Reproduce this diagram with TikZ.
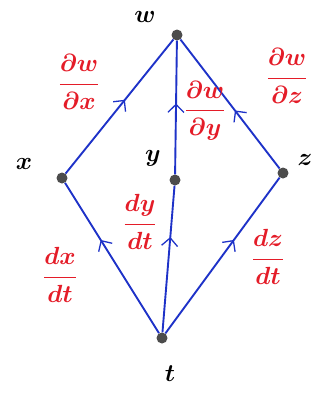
\documentclass[tikz,border=0pt]{standalone}
\usepackage{amsmath}
\usepackage{tikz}
\usetikzlibrary{positioning,arrows.meta,decorations.markings}

\definecolor{edgeblue}{RGB}{30,50,200}
\definecolor{labelred}{RGB}{228,28,40}

\begin{document}
\begin{tikzpicture}[x=1bp,y=-1bp,
			dot/.style={
				circle,
				fill=black!70,
				inner sep=0pt,
				minimum size=11bp},
			var/.style={
				font=\fontsize{28}{32}\selectfont\boldmath},
			deriv/.style={
				text=labelred,
				font=\fontsize{25}{29}\selectfont\boldmath},
			edge/.style={
				draw=edgeblue,
				line width=1.9pt,
				postaction={decorate},
				decoration={markings,
					mark=at position #1 with {\arrow[edgeblue,line width=1.3pt]{Straight Barb[length=8pt,width=16pt]}}}},
			edge/.default=0.55]
			
			\useasboundingbox (0,0) rectangle (325,396);
			
			\node[dot] (w) at (177,35) {};
			\node[dot] (x) at (62,178) {};
			\node[dot] (y) at (175,180) {};
			\node[dot] (z) at (283,173) {};
			\node[dot] (t) at (162,338) {};
			
			\node[var] (wlab) at (145,17) {$w$};
			\node[var] (xlab) at (24,164) {$x$};
			\node[var] (ylab) at (153,158) {$y$};
			\node[var] (zlab) at (305,160) {$z$};
			\node[var] (tlab) at (170,374) {$t$};
			
			\draw[edge] (x)--(w);
			\draw[edge=0.53] (y)--(w);
			\draw[edge=0.45] (z)--(w);
			
			\draw[edge=0.62] (t)--(x);
			\draw[edge=0.65] (t)--(y);
			\draw[edge=0.6] (t)--(z);
			
			\node[deriv] (dwdx) at (79,82) {$\dfrac{\partial w}{\partial x}$};
			\node[deriv] (dwdy) at (205,111) {$\dfrac{\partial w}{\partial y}$};
			\node[deriv] (dwdz) at (287,76) {$\dfrac{\partial w}{\partial z}$};
			\node[deriv] (dydt) at (140,222) {$\dfrac{dy}{dt}$};
			\node[deriv] (dxdt) at (60,275) {$\dfrac{dx}{dt}$};
			\node[deriv] (dzdt) at (268,257) {$\dfrac{dz}{dt}$};
			
		\end{tikzpicture}
\end{document}
